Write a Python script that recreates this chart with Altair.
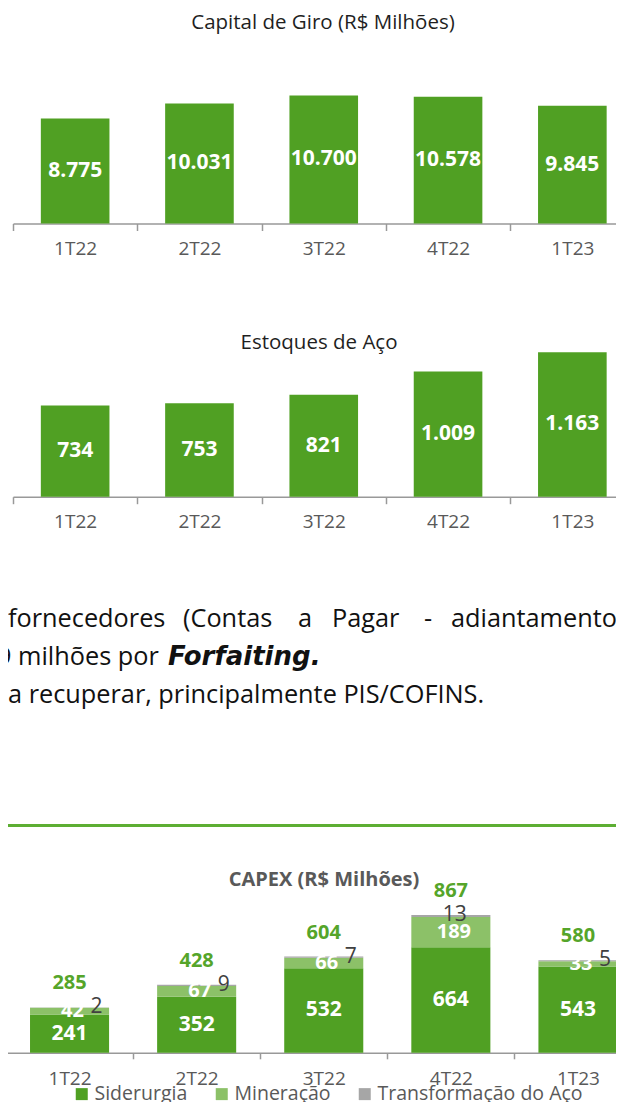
import altair as alt
import pandas as pd

# ---------------- data ----------------
quarters = ["1T22", "2T22", "3T22", "4T22", "1T23"]

capital_giro = [8775, 10031, 10700, 10578, 9845]
capital_labels = ["8.775", "10.031", "10.700", "10.578", "9.845"]

estoques = [734, 753, 821, 1009, 1163]
estoques_labels = ["734", "753", "821", "1.009", "1.163"]

segments = ["Siderurgia", "Mineração", "Transformação do Aço"]
capex_siderurgia = [241, 352, 532, 664, 543]
capex_mineracao = [42, 67, 66, 189, 33]
capex_transformacao = [2, 9, 7, 13, 5]
capex_total = [285, 428, 604, 867, 580]

title_capital = "Capital de Giro (R$ Milhões)"
title_estoques = "Estoques de Aço"
title_capex = "CAPEX (R$ Milhões)"

line1_words = ["fornecedores", "(Contas", "a", "Pagar", "-", "adiantamento"]
line2_regular = "9 milhões por"
line2_bold = "Forfaiting."
line3 = "a recuperar, principalmente PIS/COFINS."

# ---------------- style ----------------
FONT = "Open Sans"
GREEN = "#50A023"
LIGHT = "#8CC168"
GRAYSEG = "#A6A6A6"
AXIS = "#999999"
TICKLBL = "#595959"
W, H = 608, 1094


def band_axis(tick, pad, offset):
    return alt.Axis(title=None, orient="bottom", offset=offset, labelAngle=0,
                    tickBand="extent", grid=False,
                    domainColor=AXIS, tickColor=AXIS, domainWidth=1.5, tickWidth=1.5,
                    tickSize=tick, labelPadding=pad, labelFontSize=19, labelFont=FONT,
                    labelColor=TICKLBL)


def simple_bar_layer(name, values, labels, ymax, y_bottom, y_top):
    qf, vf = "q_" + name, "v_" + name
    df = pd.DataFrame({qf: quarters, vf: values, "lbl": labels})
    x = alt.X(f"{qf}:N", sort=quarters,
              scale=alt.Scale(range=[5, 626.5], paddingInner=0, paddingOuter=0),
              axis=band_axis(7, 9, y_bottom - H))
    ysc = alt.Scale(domain=[0, ymax], range=[y_bottom, y_top])
    base = alt.Chart(df)
    bars = base.mark_bar(color=GREEN, width=alt.RelativeBandSize(0.552)).encode(
        x=x, y=alt.Y(f"{vf}:Q", scale=ysc, axis=None))
    txt = base.transform_calculate(mid=f"datum['{vf}'] / 2").mark_text(
        color="white", fontWeight="bold", fontSize=21, font=FONT, baseline="middle"
    ).encode(x=alt.X(f"{qf}:N", sort=quarters),
             y=alt.Y("mid:Q", axis=None), text="lbl:N")
    return alt.layer(bars, txt)


one = pd.DataFrame({"k": [0]})


def label(text, x, y, size=25.3, **kw):
    props = dict(text=text, fontSize=size, font=FONT, color="#111111",
                 align="left", baseline="alphabetic")
    props.update(kw)
    return alt.Chart(one).mark_text(**props).encode(x=alt.value(x), y=alt.value(y))


layer_capital = simple_bar_layer("cg", capital_giro, capital_labels, 17369, 215.5, 0)
layer_estoques = simple_bar_layer("ea", estoques, estoques_labels, 2016, 488.7, 215.5)

titles = [
    label(title_capital, 315, 15, size=20.5, align="center", baseline="middle", color="#1f1f1f"),
    label(title_estoques, 311, 335, size=20.5, align="center", baseline="middle", color="#1f1f1f"),
    label(title_capex, 316, 872, size=20, align="center", baseline="middle",
          color=TICKLBL, fontWeight="bold"),
]

# ---------------- text block ----------------
texts = []
for w, xx in zip(line1_words, [0, 175, 290, 324, 416, 443]):
    texts.append(label(w, xx, 619))
texts.append(label(line2_regular, -11, 657))
texts.append(label(line2_bold, 160, 657, size=26, font="DejaVu Sans",
                   fontWeight="bold", fontStyle="italic"))
texts.append(label(line3, 0, 695))
rule = alt.Chart(one).mark_rule(color="#5DAE33", strokeWidth=3).encode(
    x=alt.value(0), x2=alt.value(W), y=alt.value(817.5))

# ---------------- CAPEX ----------------
seg_values = [capex_siderurgia, capex_mineracao, capex_transformacao]
long_rows = []
for si, (seg, vals) in enumerate(zip(segments, seg_values)):
    for q, v in zip(quarters, vals):
        long_rows.append({"qc": q, "seg": seg, "val": v, "ord": si})
df_long = pd.DataFrame(long_rows)
df_wide = pd.DataFrame({"qc": quarters, "sid": capex_siderurgia, "mine": capex_mineracao,
                        "tra": capex_transformacao, "tot": capex_total})

xc = alt.X("qc:N", sort=quarters,
           scale=alt.Scale(range=[-2, 633.5], paddingInner=0, paddingOuter=0),
           axis=band_axis(6, 10.5, 1044.8 - H))
ys = alt.Scale(domain=[0, 1352], range=[1044.8, 822])

capex_bars = alt.Chart(df_long).mark_bar(width=alt.RelativeBandSize(0.622)).encode(
    x=xc,
    y=alt.Y("val:Q", stack="zero", scale=ys, axis=None),
    color=alt.Color("seg:N", scale=alt.Scale(domain=segments, range=[GREEN, LIGHT, GRAYSEG]),
                    legend=alt.Legend(orient="none", legendX=64, legendY=1076,
                                      direction="horizontal", title=None,
                                      symbolType="square", symbolSize=144,
                                      symbolStrokeWidth=0, labelFontSize=19.5,
                                      labelFont=FONT, labelColor=TICKLBL, labelLimit=0,
                                      columnPadding=24, labelOffset=3, padding=0)),
    order=alt.Order("ord:Q"),
)

wbase = alt.Chart(df_wide)
xq = alt.X("qc:N", sort=quarters)
sid_txt = wbase.transform_calculate(y="datum.sid / 2").mark_text(
    color="white", fontWeight="bold", fontSize=21, font=FONT, baseline="middle"
).encode(x=xq, y=alt.Y("y:Q", axis=None), text="sid:Q")
mine_txt = wbase.transform_calculate(y="datum.sid + datum.mine / 2").mark_text(
    color="white", fontWeight="bold", fontSize=20, font=FONT, baseline="middle", dx=3
).encode(x=xq, y=alt.Y("y:Q", axis=None), text="mine:Q")
tra_txt_a = wbase.transform_filter("datum.qc != '4T22'").transform_calculate(
    y="datum.sid + datum.mine + datum.tra").mark_text(
    color="#404040", fontSize=21, font=FONT, baseline="middle", dx=27
).encode(x=xq, y=alt.Y("y:Q", axis=None), text="tra:Q")
tra_txt_b = wbase.transform_filter("datum.qc == '4T22'").transform_calculate(
    y="datum.sid + datum.mine + datum.tra").mark_text(
    color="#404040", fontSize=21, font=FONT, baseline="middle", dx=4
).encode(x=xq, y=alt.Y("y:Q", axis=None), text="tra:Q")
tot_txt = wbase.mark_text(
    color="#55A52A", fontWeight="bold", fontSize=20, font=FONT, baseline="middle", dy=-24
).encode(x=xq, y=alt.Y("tot:Q", axis=None), text="tot:Q")

layer_capex = alt.layer(capex_bars, sid_txt, mine_txt, tra_txt_a, tra_txt_b, tot_txt)

chart = alt.layer(
    layer_capital, layer_estoques, layer_capex, *titles, *texts, rule
).resolve_scale(
    x="independent", y="independent", color="independent"
).resolve_axis(
    x="independent", y="independent"
).properties(
    width=W, height=H, padding=0, autosize=alt.AutoSizeParams(type="none")
).configure_view(stroke=None)

chart.save("out.html", embed_options={"renderer": "svg", "actions": False})
